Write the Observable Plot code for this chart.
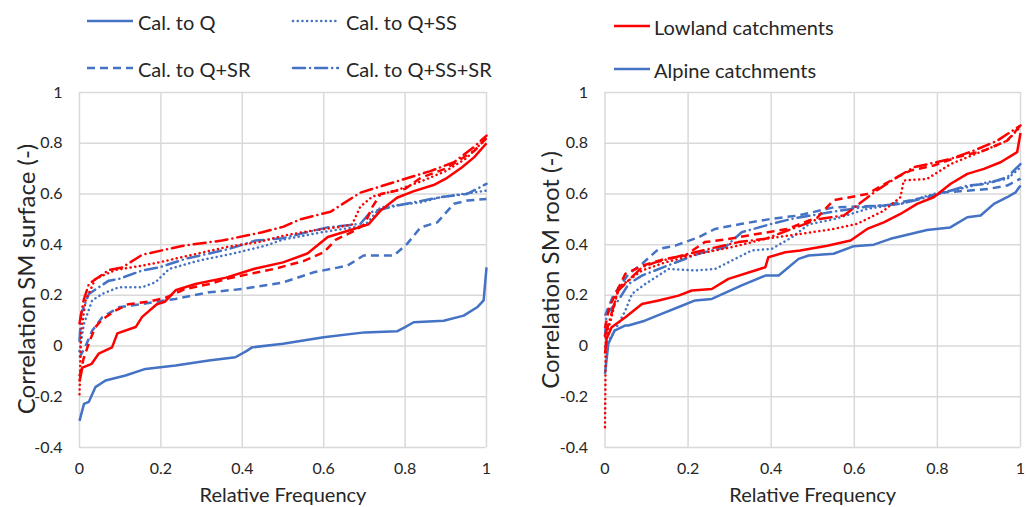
<!DOCTYPE html>
<html>
<head>
<meta charset="utf-8">
<script src="https://cdn.jsdelivr.net/npm/d3@7"></script>
<script src="https://cdn.jsdelivr.net/npm/@observablehq/plot@0.6"></script>
<style>
  html, body { margin: 0; padding: 0; background: #fff; }
  #wrap { position: relative; width: 1031px; height: 507px; font-family: Lato, "Open Sans", sans-serif; color: #262626; overflow: hidden; }
  .panel { position: absolute; top: 80px; }
  .leg { position: absolute; font-size: 20px; line-height: 24px; white-space: nowrap; }
  .legsvg { position: absolute; overflow: visible; }
</style>
</head>
<body>
<div id="wrap"></div>
<script>
// ---------- data ----------
const calibrations = ["Cal. to Q", "Cal. to Q+SS", "Cal. to Q+SR", "Cal. to Q+SS+SR"];
const catchments = ["Lowland catchments", "Alpine catchments"];
const catchmentColors = ["#ff0000", "#4472c4"];
const xTicks = [0, 0.2, 0.4, 0.6, 0.8, 1];
const yTicks = [-0.4, -0.2, 0, 0.2, 0.4, 0.6, 0.8, 1];
const xLabel = "Relative Frequency";
const yLabelSurface = "Correlation SM surface (-)";
const yLabelRoot = "Correlation SM root (-)";

// Surface panel — [relative frequency, correlation]
const surfaceLowlandQ = [[0,-0.14],[0.007,-0.085],[0.03,-0.07],[0.047,-0.03],[0.08,-0.005],[0.093,0.05],[0.138,0.075],[0.154,0.115],[0.19,0.165],[0.21,0.175],[0.236,0.22],[0.285,0.245],[0.36,0.27],[0.43,0.305],[0.5,0.33],[0.56,0.365],[0.61,0.43],[0.66,0.455],[0.71,0.48],[0.74,0.535],[0.78,0.585],[0.82,0.61],[0.87,0.635],[0.9,0.66],[0.94,0.705],[0.97,0.745],[1,0.8]];
const surfaceLowlandQSS = [[0,-0.19],[0.004,0.06],[0.015,0.18],[0.039,0.265],[0.088,0.3],[0.154,0.317],[0.195,0.33],[0.277,0.36],[0.36,0.39],[0.44,0.41],[0.5,0.435],[0.57,0.455],[0.64,0.47],[0.67,0.48],[0.69,0.55],[0.72,0.59],[0.78,0.615],[0.84,0.65],[0.9,0.69],[0.95,0.74],[1,0.82]];
const surfaceLowlandQSR = [[0,-0.12],[0.01,-0.05],[0.025,0.02],[0.039,0.075],[0.056,0.105],[0.088,0.14],[0.12,0.165],[0.17,0.175],[0.21,0.19],[0.26,0.225],[0.32,0.245],[0.36,0.265],[0.42,0.285],[0.48,0.305],[0.55,0.335],[0.6,0.37],[0.63,0.42],[0.67,0.45],[0.7,0.48],[0.72,0.55],[0.74,0.6],[0.8,0.62],[0.84,0.665],[0.9,0.7],[0.93,0.73],[0.97,0.77],[1,0.82]];
const surfaceLowlandQSSSR = [[0,0.09],[0.01,0.18],[0.023,0.245],[0.072,0.3],[0.105,0.31],[0.154,0.36],[0.252,0.395],[0.35,0.416],[0.449,0.449],[0.5,0.47],[0.543,0.5],[0.617,0.53],[0.641,0.555],[0.69,0.605],[0.78,0.65],[0.862,0.69],[0.92,0.725],[0.969,0.785],[1,0.83]];
const surfaceAlpineQ = [[0,-0.295],[0.011,-0.228],[0.023,-0.22],[0.039,-0.162],[0.064,-0.136],[0.113,-0.116],[0.162,-0.09],[0.236,-0.077],[0.318,-0.057],[0.383,-0.044],[0.41,-0.02],[0.424,-0.005],[0.5,0.009],[0.6,0.035],[0.7,0.054],[0.78,0.058],[0.8,0.075],[0.821,0.094],[0.895,0.1],[0.944,0.12],[0.977,0.153],[0.993,0.18],[1,0.31]];
const surfaceAlpineQSS = [[0,-0.02],[0.011,0.088],[0.031,0.18],[0.056,0.206],[0.097,0.232],[0.154,0.232],[0.187,0.252],[0.22,0.304],[0.293,0.337],[0.375,0.364],[0.457,0.396],[0.5,0.42],[0.6,0.45],[0.7,0.475],[0.74,0.547],[0.84,0.567],[0.887,0.587],[1,0.613]];
const surfaceAlpineQSR = [[0,-0.045],[0.015,0],[0.031,0.06],[0.056,0.114],[0.097,0.153],[0.154,0.166],[0.236,0.186],[0.318,0.212],[0.4,0.225],[0.498,0.25],[0.576,0.291],[0.658,0.317],[0.698,0.357],[0.772,0.357],[0.805,0.403],[0.838,0.468],[0.879,0.488],[0.92,0.561],[0.953,0.574],[1,0.58]];
const surfaceAlpineQSSSR = [[0,0.02],[0.004,0.127],[0.023,0.206],[0.072,0.258],[0.097,0.265],[0.154,0.298],[0.195,0.31],[0.26,0.344],[0.367,0.383],[0.432,0.416],[0.498,0.425],[0.609,0.468],[0.69,0.482],[0.715,0.528],[0.78,0.554],[0.887,0.587],[0.953,0.6],[1,0.64]];

// Root panel — [relative frequency, correlation]
const rootLowlandQ = [[0,-0.03],[0.004,0.03],[0.016,0.074],[0.049,0.114],[0.089,0.166],[0.129,0.18],[0.177,0.199],[0.209,0.219],[0.257,0.225],[0.297,0.265],[0.361,0.298],[0.386,0.311],[0.393,0.35],[0.434,0.37],[0.47,0.377],[0.535,0.396],[0.591,0.416],[0.631,0.462],[0.671,0.488],[0.711,0.521],[0.751,0.561],[0.791,0.587],[0.832,0.64],[0.872,0.679],[0.912,0.699],[0.952,0.725],[0.992,0.765],[1,0.84]];
const rootLowlandQSS = [[0,-0.32],[0.002,0.035],[0.016,0.114],[0.032,0.232],[0.056,0.258],[0.089,0.298],[0.145,0.33],[0.225,0.364],[0.305,0.39],[0.386,0.423],[0.47,0.442],[0.551,0.462],[0.607,0.482],[0.671,0.534],[0.711,0.587],[0.719,0.653],[0.775,0.659],[0.832,0.718],[0.912,0.771],[0.968,0.81],[1,0.865]];
const rootLowlandQSR = [[0,0.07],[0.01,0.153],[0.049,0.285],[0.089,0.317],[0.145,0.344],[0.193,0.357],[0.24,0.41],[0.29,0.42],[0.345,0.436],[0.44,0.462],[0.49,0.495],[0.51,0.505],[0.55,0.575],[0.631,0.6],[0.695,0.659],[0.735,0.692],[0.791,0.712],[0.848,0.745],[0.912,0.771],[0.968,0.81],[1,0.87]];
const rootLowlandQSSSR = [[0,0.04],[0.032,0.219],[0.056,0.258],[0.089,0.311],[0.121,0.33],[0.185,0.357],[0.25,0.383],[0.321,0.41],[0.386,0.423],[0.45,0.462],[0.511,0.5],[0.575,0.515],[0.655,0.615],[0.703,0.666],[0.743,0.705],[0.832,0.738],[0.888,0.771],[0.944,0.81],[1,0.87]];
const rootAlpineQ = [[0,-0.11],[0.008,0.009],[0.023,0.061],[0.048,0.081],[0.056,0.081],[0.096,0.1],[0.136,0.127],[0.176,0.153],[0.217,0.18],[0.257,0.186],[0.329,0.239],[0.386,0.278],[0.418,0.278],[0.466,0.344],[0.49,0.357],[0.55,0.364],[0.599,0.394],[0.647,0.4],[0.687,0.423],[0.735,0.442],[0.775,0.458],[0.831,0.468],[0.872,0.508],[0.904,0.515],[0.936,0.561],[0.968,0.587],[0.988,0.606],[1,0.633]];
const rootAlpineQSS = [[0,0],[0.02,0.05],[0.049,0.14],[0.065,0.206],[0.097,0.245],[0.153,0.304],[0.217,0.298],[0.265,0.304],[0.305,0.337],[0.353,0.377],[0.401,0.383],[0.45,0.429],[0.49,0.48],[0.55,0.5],[0.631,0.541],[0.711,0.561],[0.791,0.6],[0.855,0.62],[0.92,0.646],[0.968,0.659],[1,0.705]];
const rootAlpineQSR = [[0,0.12],[0.02,0.2],[0.057,0.285],[0.089,0.324],[0.129,0.383],[0.169,0.396],[0.225,0.429],[0.265,0.462],[0.329,0.482],[0.401,0.502],[0.466,0.515],[0.55,0.547],[0.671,0.554],[0.751,0.58],[0.815,0.606],[0.872,0.613],[0.92,0.619],[0.968,0.633],[1,0.66]];
const rootAlpineQSSSR = [[0,0.04],[0.004,0.127],[0.032,0.18],[0.057,0.245],[0.089,0.278],[0.161,0.324],[0.225,0.364],[0.289,0.39],[0.329,0.449],[0.401,0.482],[0.45,0.502],[0.55,0.53],[0.63,0.55],[0.71,0.56],[0.791,0.593],[0.872,0.633],[0.92,0.64],[0.968,0.666],[1,0.718]];

const surfaceSeries = {
  "Lowland catchments": [surfaceLowlandQ, surfaceLowlandQSS, surfaceLowlandQSR, surfaceLowlandQSSSR],
  "Alpine catchments": [surfaceAlpineQ, surfaceAlpineQSS, surfaceAlpineQSR, surfaceAlpineQSSSR]
};
const rootSeries = {
  "Lowland catchments": [rootLowlandQ, rootLowlandQSS, rootLowlandQSR, rootLowlandQSSSR],
  "Alpine catchments": [rootAlpineQ, rootAlpineQSS, rootAlpineQSR, rootAlpineQSSSR]
};

// ---------- styles ----------
const dashes = {"Cal. to Q": null, "Cal. to Q+SS": "0.1,4.6", "Cal. to Q+SR": "8,5", "Cal. to Q+SS+SR": "12,5,0.1,5"};
const caps = {"Cal. to Q": "butt", "Cal. to Q+SS": "round", "Cal. to Q+SR": "butt", "Cal. to Q+SS+SR": "round"};
const fmt = d => String(+d.toFixed(1));

function panel(series, yLabel, marginLeft, marginRight, titleX, titleDy) {
  const rows = [];
  for (const c of catchments) {
    series[c].forEach((arr, i) => {
      for (const [f, v] of arr) rows.push({catchment: c, cal: calibrations[i], f, v});
    });
  }
  const lineMarks = [];
  for (const c of [...catchments].reverse()) {
    for (const cal of calibrations) {
      lineMarks.push(Plot.line(rows.filter(r => r.catchment === c && r.cal === cal), {
        x: "f", y: "v", stroke: "catchment", strokeWidth: 2.5,
        strokeDasharray: dashes[cal], strokeLinecap: caps[cal], strokeLinejoin: "round"
      }));
    }
  }
  return Plot.plot({
    width: 506, height: 427,
    marginLeft, marginRight, marginTop: 12, marginBottom: 60,
    style: {fontFamily: "Lato, 'Open Sans', sans-serif", fontSize: "16px", color: "#262626", background: "transparent", overflow: "visible"},
    x: {domain: [0, 1]},
    y: {domain: [-0.4, 1]},
    color: {domain: catchments, range: catchmentColors},
    marks: [
      Plot.gridX(xTicks, {stroke: "#d9d9d9", strokeOpacity: 1, strokeWidth: 1.5}),
      Plot.gridY(yTicks, {stroke: "#d9d9d9", strokeOpacity: 1, strokeWidth: 1.5}),
      Plot.axisX(xTicks, {tickSize: 0, tickPadding: 15, tickFormat: fmt, label: null}),
      Plot.axisY(yTicks, {tickSize: 0, tickPadding: 17, tickFormat: fmt, label: null}),
      Plot.text([xLabel], {frameAnchor: "bottom", dy: 48, lineAnchor: "middle", textAnchor: "middle", text: d => d, fontSize: 20}),
      Plot.text([yLabel], {frameAnchor: "left", dx: -(marginLeft - titleX), dy: titleDy, rotate: -90, lineAnchor: "middle", textAnchor: "middle", text: d => d, fontSize: 24}),
      ...lineMarks
    ]
  });
}

const wrap = document.getElementById("wrap");
const p1 = panel(surfaceSeries, yLabelSurface, 79, 20, 27, 9);
p1.classList.add("panel"); p1.style.left = "0px";
wrap.appendChild(p1);
const p2 = panel(rootSeries, yLabelRoot, 79.5, 11, 26, 0);
p2.classList.add("panel"); p2.style.left = "525px";
wrap.appendChild(p2);

// ---------- legends ----------
function legendItem(x1, x2, y, textX, label, color, dash, cap) {
  const ns = "http://www.w3.org/2000/svg";
  const svg = document.createElementNS(ns, "svg");
  svg.setAttribute("class", "legsvg");
  svg.setAttribute("width", x2 - x1 + 4);
  svg.setAttribute("height", 10);
  svg.style.left = (x1 - 2) + "px";
  svg.style.top = (y - 5) + "px";
  const ln = document.createElementNS(ns, "line");
  ln.setAttribute("x1", 2); ln.setAttribute("x2", x2 - x1 + 2);
  ln.setAttribute("y1", 5); ln.setAttribute("y2", 5);
  ln.setAttribute("stroke", color); ln.setAttribute("stroke-width", 2.5);
  if (dash) ln.setAttribute("stroke-dasharray", dash);
  ln.setAttribute("stroke-linecap", cap);
  svg.appendChild(ln);
  wrap.appendChild(svg);
  const t = document.createElement("div");
  t.className = "leg";
  t.textContent = label;
  t.style.left = textX + "px";
  t.style.top = (y - 11) + "px";
  wrap.appendChild(t);
}
legendItem(87, 133, 21, 138, calibrations[0], catchmentColors[1], dashes[calibrations[0]], caps[calibrations[0]]);
legendItem(293, 338, 21, 346, calibrations[1], catchmentColors[1], dashes[calibrations[1]], caps[calibrations[1]]);
legendItem(87, 133, 68, 138, calibrations[2], catchmentColors[1], dashes[calibrations[2]], caps[calibrations[2]]);
legendItem(293, 338, 68, 346, calibrations[3], catchmentColors[1], dashes[calibrations[3]], caps[calibrations[3]]);
legendItem(614, 650, 26, 654, catchments[0], catchmentColors[0], null, "butt");
legendItem(614, 650, 69, 654, catchments[1], catchmentColors[1], null, "butt");
</script>
</body>
</html>
